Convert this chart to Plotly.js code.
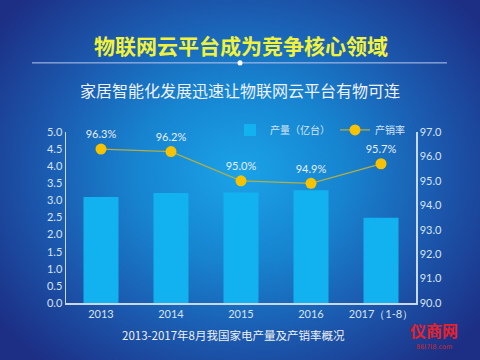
<!DOCTYPE html>
<html>
<head>
<meta charset="utf-8">
<script src="https://cdn.plot.ly/plotly-3.0.1.min.js"></script>
<style>
html,body{margin:0;padding:0;}
#chart{width:480px;height:360px;background:radial-gradient(ellipse 62% 70% at 50% 48%, #1aa3e8 0%, #1784d0 35%, #1b5bb0 65%, #1c2f85 100%);}
</style>
</head>
<body>
<div id="chart"></div>
<script>
const categories = ['2013', '2014', '2015', '2016', '2017（1-8）'];
const output = [3.10, 3.22, 3.23, 3.30, 2.49];
const rate = [96.3, 96.2, 95.0, 94.9, 95.7];
const rateLabels = ['96.3%', '96.2%', '95.0%', '94.9%', '95.7%'];
const leftTicks = [0, 0.5, 1, 1.5, 2, 2.5, 3, 3.5, 4, 4.5, 5];
const rightTicks = [90, 91, 92, 93, 94, 95, 96, 97];

const cjk = '"Noto Sans CJK SC", "Noto Sans", sans-serif';
const tickFont = {family: 'Lato, "Open Sans", sans-serif', size: 11, color: '#d6e4f2'};

const traces = [
  {
    type: 'bar', name: '产量（亿台）', x: categories, y: output,
    marker: {color: '#12b2f0'}, yaxis: 'y', hoverinfo: 'none'
  },
  {
    type: 'scatter', mode: 'lines+markers+text', name: '产销率', x: categories, y: rate,
    yaxis: 'y2', text: rateLabels, textposition: 'top center',
    textfont: {family: 'Lato, "Open Sans", sans-serif', size: 11, color: '#e8eef6'},
    line: {color: '#b3ad45', width: 1.3},
    marker: {color: '#f7c300', size: 11}, hoverinfo: 'none', cliponaxis: false
  }
];

const layout = {
  width: 480, height: 360,
  paper_bgcolor: 'rgba(0,0,0,0)', plot_bgcolor: 'rgba(0,0,0,0)',
  margin: {l: 66, r: 64, t: 132, b: 57},
  bargap: 0.5,
  showlegend: true,
  legend: {
    orientation: 'h', x: (410 - 66) / 350, xanchor: 'right', y: 1.012, yanchor: 'middle',
    font: {family: cjk, size: 10, color: '#d6e4f2'}, bgcolor: 'rgba(0,0,0,0)',
    itemwidth: 30, tracegroupgap: 0
  },
  title: {
    text: '<b>物联网云平台成为竞争核心领域</b>',
    font: {family: cjk, size: 21, color: '#f2f23a'},
    x: 0.5, xref: 'paper', xanchor: 'center', y: 0.87, yref: 'container', yanchor: 'middle'
  },
  xaxis: {
    type: 'category', showgrid: false, showline: true, linecolor: '#c9d8ea', linewidth: 1.5,
    ticks: '', tickfont: tickFont, fixedrange: true
  },
  yaxis: {
    range: [0, 5], tickvals: leftTicks, tickformat: '.1f', showgrid: false, zeroline: false,
    showline: true, linecolor: '#c9d8ea', linewidth: 1.5, ticks: '', tickfont: tickFont
  },
  yaxis2: {
    range: [90, 97], tickvals: rightTicks, tickformat: '.1f', ticksuffix: '%',
    overlaying: 'y', side: 'right', showgrid: false, zeroline: false,
    showline: true, linecolor: '#c9d8ea', linewidth: 1.5, ticks: '', tickfont: tickFont
  },
  shapes: [
    {type: 'line', xref: 'paper', yref: 'paper', x0: (32 - 66) / 350, x1: (447 - 66) / 350,
     y0: (302.7 - 63) / 170.7, y1: (302.7 - 63) / 170.7, line: {color: '#b8c8ee', width: 1}},
    {type: 'circle', xref: 'paper', yref: 'paper',
     x0: (237.5 - 66) / 350, x1: (242.5 - 66) / 350,
     y0: (302.7 - 65.5) / 170.7, y1: (302.7 - 60.5) / 170.7,
     fillcolor: '#ffffff', line: {width: 0}}
  ],
  annotations: [
    {text: '家居智能化发展迅速让物联网云平台有物可连', xref: 'paper', yref: 'paper',
     x: 0.497, y: (302.7 - 90) / 170.7, xanchor: 'center', yanchor: 'middle', showarrow: false,
     font: {family: cjk, size: 16, color: '#eef2f8'}},
    {text: '2013-2017年8月我国家电产量及产销率概况', xref: 'paper', yref: 'paper',
     x: (233 - 66) / 350, y: (302.7 - 335) / 170.7, xanchor: 'center', yanchor: 'middle', showarrow: false,
     font: {family: cjk, size: 11.5, color: '#f0f0f0'}},
    {text: '<b>仪商网</b>', xref: 'paper', yref: 'paper',
     x: (434 - 66) / 350, y: (302.7 - 330) / 170.7, xanchor: 'center', yanchor: 'middle', showarrow: false,
     font: {family: cjk, size: 16, color: '#e8202a'}},
    {text: '86I7I8.com', xref: 'paper', yref: 'paper',
     x: (434 - 66) / 350, y: (302.7 - 347) / 170.7, xanchor: 'center', yanchor: 'middle', showarrow: false,
     font: {family: 'DejaVu Sans', size: 6.5, color: '#c8282e'}}
  ]
};

Plotly.newPlot('chart', traces, layout, {displayModeBar: false, staticPlot: true});
</script>
</body>
</html>
